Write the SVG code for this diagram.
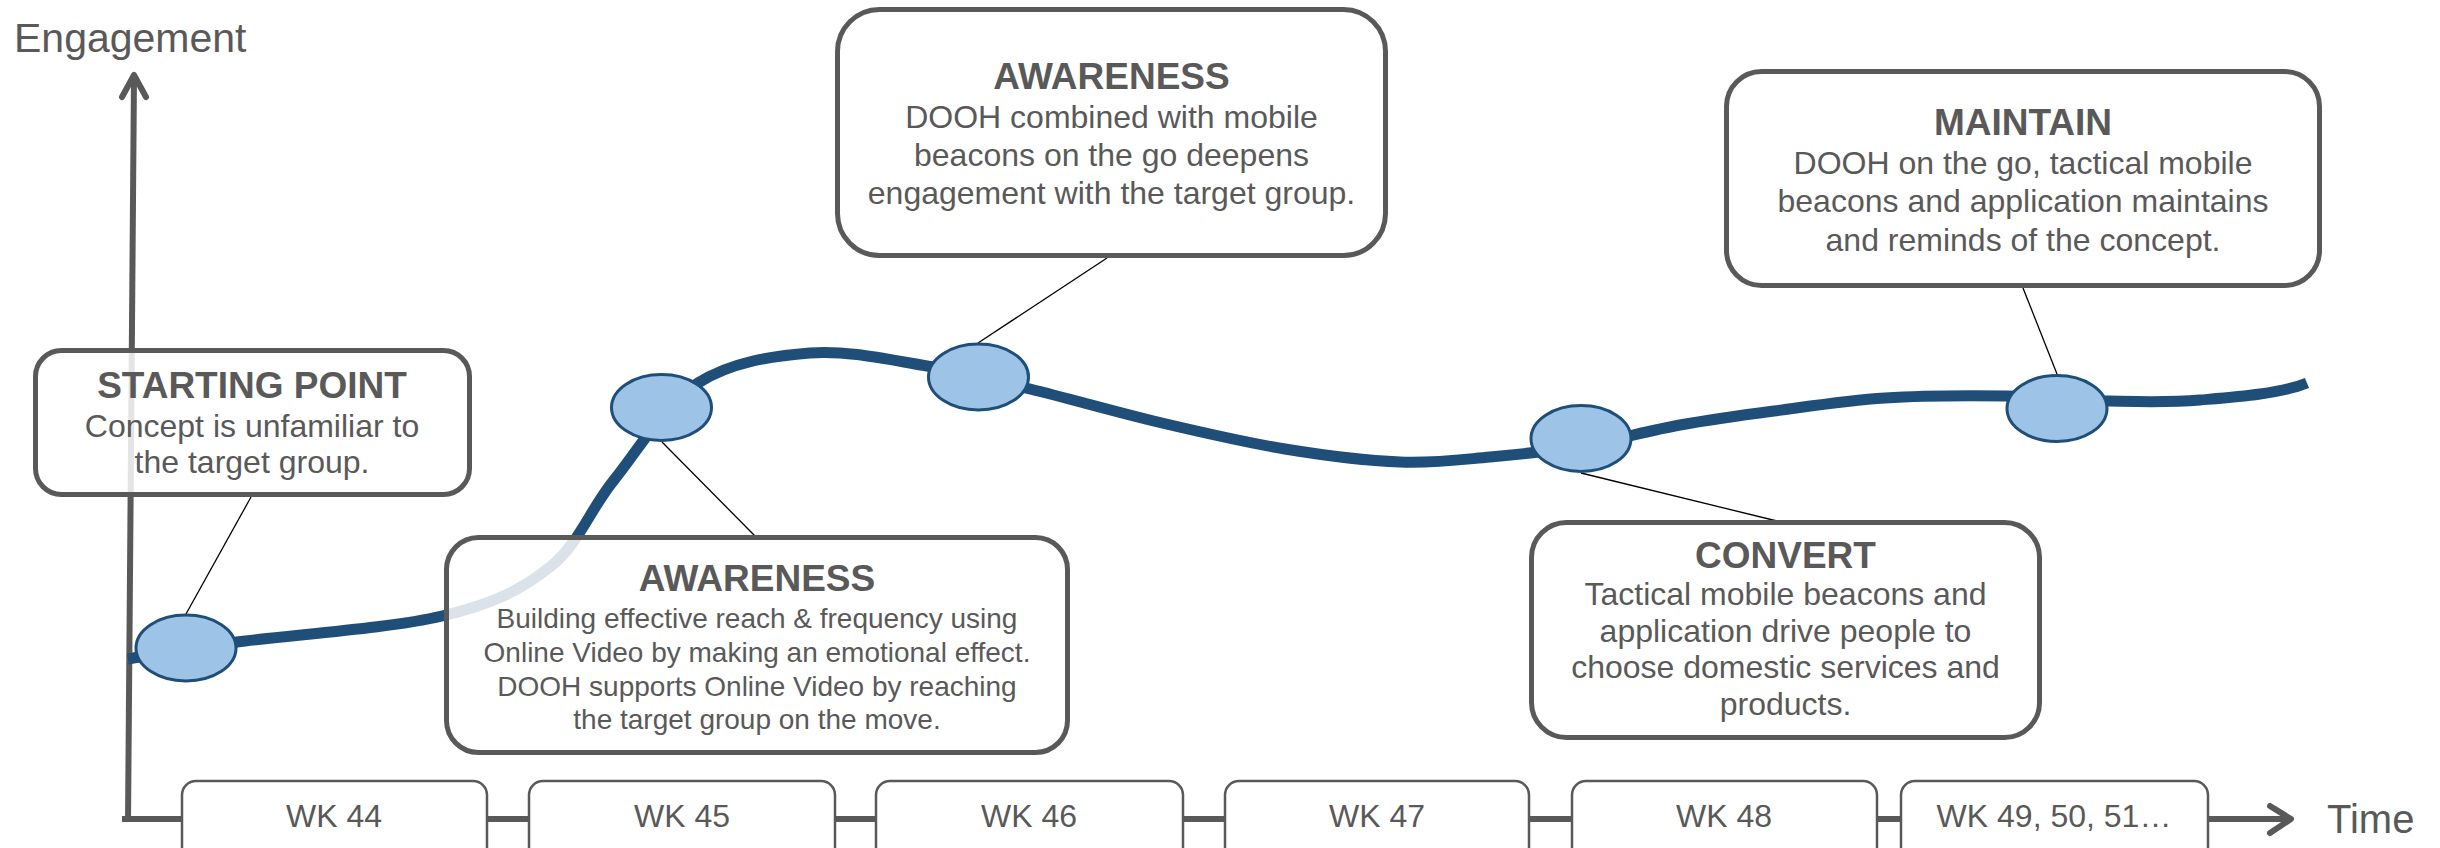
<svg xmlns="http://www.w3.org/2000/svg" width="2440" height="848" viewBox="0 0 2440 848">
<style>
text{font-family:"Liberation Sans",Arial,sans-serif;fill:#595959;text-anchor:middle}
.h{font-weight:bold;font-size:37px}
.b{font-size:32px}
.s{font-size:28px}
.wk{font-size:32px}
.card{fill:#ffffff;fill-opacity:0.84;stroke:#595959;stroke-width:5}
.wkbox{fill:#ffffff;stroke:#595959;stroke-width:2.5}
.axis{stroke:#595959;stroke-width:6;fill:none}
.dot{fill:#9dc3e6;stroke:#1f4e79;stroke-width:3}
.call{stroke:#000000;stroke-width:1.3;fill:none}
</style>
<g id="axes">
<line class="axis" x1="134" y1="76" x2="128" y2="822"/>
<polyline class="axis" points="122,97 134,75 146,97" stroke-linecap="round" stroke-linejoin="round"/>
<line class="axis" x1="122" y1="819" x2="2290" y2="819"/>
<polyline class="axis" points="2270,806 2291,819 2270,833" stroke-linecap="round" stroke-linejoin="round"/>
<text x="14" y="52" style="font-size:41px;text-anchor:start">Engagement</text>
<text x="2327" y="833" style="font-size:40px;text-anchor:start">Time</text>
</g>
<g id="weeks">
<g id="wk44"><rect class="wkbox" x="182" y="781" width="305" height="90" rx="14"/><text class="wk" x="334" y="827">WK 44</text></g>
<g id="wk45"><rect class="wkbox" x="529" y="781" width="306" height="90" rx="14"/><text class="wk" x="682" y="827">WK 45</text></g>
<g id="wk46"><rect class="wkbox" x="876" y="781" width="307" height="90" rx="14"/><text class="wk" x="1029" y="827">WK 46</text></g>
<g id="wk47"><rect class="wkbox" x="1225" y="781" width="304" height="90" rx="14"/><text class="wk" x="1377" y="827">WK 47</text></g>
<g id="wk48"><rect class="wkbox" x="1572" y="781" width="305" height="90" rx="14"/><text class="wk" x="1724" y="827">WK 48</text></g>
<g id="wk49"><rect class="wkbox" x="1901" y="781" width="307" height="90" rx="14"/><text class="wk" x="2054" y="827">WK 49, 50, 51…</text></g>
</g>
<g id="connectors">
<path d="M128 659 C146 656 185 649 237 642 C289 635 390 628.5 442 616 C494 603.5 521 590 550 567 C579 544 589 511 614 480 C639 449 665 404 698 383 C731 362 772 356 810 353 C848 350 890 360 927 366 C964 372 991 379.5 1030 389 C1069 398.5 1119.5 413 1162 423 C1204.5 433 1245.3 442.5 1285 449 C1324.7 455.5 1365.8 460.7 1400 462 C1434.2 463.3 1459.8 459.7 1490 457 C1520.2 454.3 1549.3 451.3 1581 446 C1612.7 440.7 1647.8 430.8 1680 425 C1712.2 419.2 1739.8 415.5 1774 411 C1808.2 406.5 1846.3 400.5 1885 398 C1923.7 395.5 1968.7 395.5 2006 396 C2043.3 396.5 2076.7 400.3 2109 401 C2141.3 401.7 2167 402.8 2200 400 C2233 397.2 2280 394 2307 383" fill="none" stroke="#1f4e79" stroke-width="11"/>
<line class="call" x1="186" y1="614" x2="251" y2="497"/>
<line class="call" x1="662" y1="442" x2="755" y2="536"/>
<line class="call" x1="978" y1="343" x2="1107" y2="258"/>
<line class="call" x1="1581" y1="473" x2="1777" y2="521"/>
<line class="call" x1="2057" y1="374" x2="2023" y2="288"/>
</g>
<g id="dots">
<ellipse class="dot" cx="186" cy="648" rx="50" ry="33"/>
<ellipse class="dot" cx="661.5" cy="407.5" rx="50" ry="33"/>
<ellipse class="dot" cx="978.5" cy="377" rx="50" ry="33"/>
<ellipse class="dot" cx="1581" cy="438.5" rx="50" ry="33"/>
<ellipse class="dot" cx="2057" cy="408.5" rx="50" ry="33"/>
</g>
<g id="starting-point">
<rect class="card" x="35.5" y="350.5" width="434" height="144" rx="26"/>
<text class="h" x="252" y="398">STARTING POINT</text>
<text class="b" x="252" y="437">Concept is unfamiliar to</text>
<text class="b" x="252" y="473">the target group.</text>
</g>
<g id="awareness-1">
<rect class="card" x="446.5" y="537.5" width="621" height="215" rx="32"/>
<text class="h" x="757" y="591">AWARENESS</text>
<text class="s" x="757" y="628">Building effective reach &amp; frequency using</text>
<text class="s" x="757" y="662">Online Video by making an emotional effect.</text>
<text class="s" x="757" y="696">DOOH supports Online Video by reaching</text>
<text class="s" x="757" y="729">the target group on the move.</text>
</g>
<g id="awareness-2">
<rect class="card" x="837.5" y="9.5" width="548" height="246" rx="42"/>
<text class="h" x="1111.5" y="89">AWARENESS</text>
<text class="b" x="1111.5" y="128">DOOH combined with mobile</text>
<text class="b" x="1111.5" y="166">beacons on the go deepens</text>
<text class="b" x="1111.5" y="204">engagement with the target group.</text>
</g>
<g id="convert">
<rect class="card" x="1531.5" y="522.5" width="508" height="215" rx="35"/>
<text class="h" x="1785.5" y="568">CONVERT</text>
<text class="b" x="1785.5" y="605">Tactical mobile beacons and</text>
<text class="b" x="1785.5" y="642">application drive people to</text>
<text class="b" x="1785.5" y="678">choose domestic services and</text>
<text class="b" x="1785.5" y="715">products.</text>
</g>
<g id="maintain">
<rect class="card" x="1726.5" y="71.5" width="593" height="214" rx="35"/>
<text class="h" x="2023" y="135">MAINTAIN</text>
<text class="b" x="2023" y="174">DOOH on the go, tactical mobile</text>
<text class="b" x="2023" y="212">beacons and application maintains</text>
<text class="b" x="2023" y="251">and reminds of the concept.</text>
</g>
</svg>
